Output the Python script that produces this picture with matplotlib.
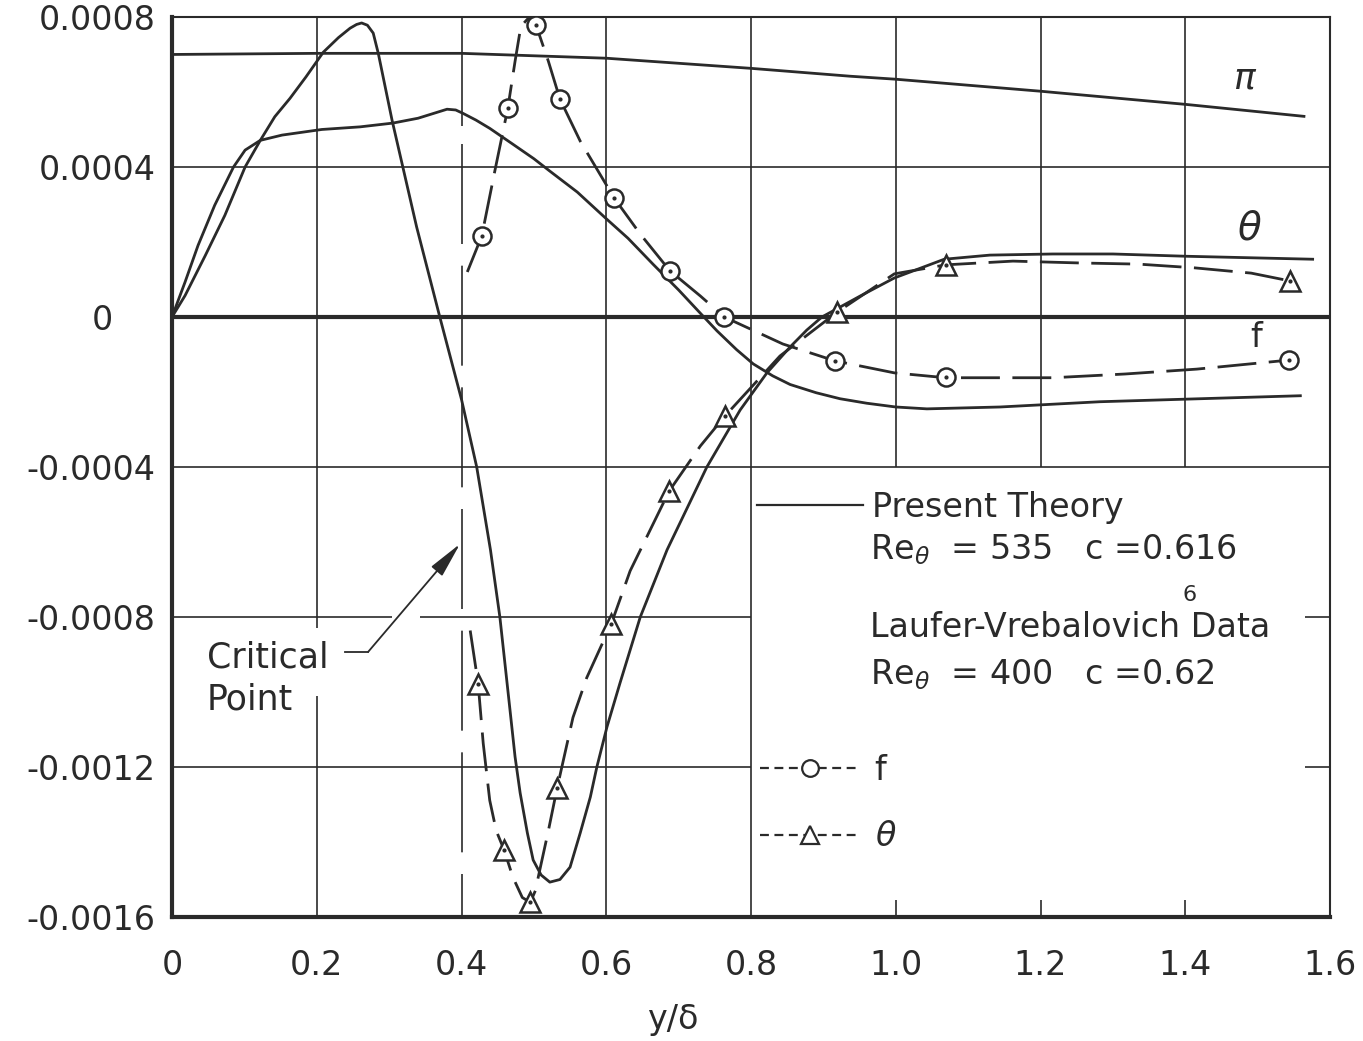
import matplotlib
matplotlib.use("Agg")
import matplotlib.pyplot as plt
from matplotlib.lines import Line2D

# all y values in units of 1e-4
E = 1e-4

# present theory (solid curves)
pi_x = [0.0, 0.2, 0.4, 0.6, 0.8, 0.937, 1.0, 1.2, 1.4, 1.564]
pi_y = [7.0, 7.03, 7.03, 6.9, 6.63, 6.42, 6.34, 6.02, 5.67, 5.35]

theta_x = [0.0, 0.018, 0.046, 0.073, 0.101, 0.122, 0.142, 0.163, 0.185, 0.209, 0.23,
           0.246, 0.255, 0.262, 0.27, 0.278, 0.285, 0.304, 0.338, 0.370, 0.40, 0.421,
           0.44, 0.453, 0.467, 0.474, 0.481, 0.491, 0.499, 0.51, 0.522, 0.536, 0.55,
           0.564, 0.578, 0.587, 0.601, 0.619, 0.647, 0.684, 0.739, 0.785, 0.822, 0.854,
           0.877, 0.898, 0.95, 0.998, 1.067, 1.13, 1.217, 1.30, 1.40, 1.576]
theta_y = [0.0, 0.57, 1.64, 2.71, 4.0, 4.71, 5.34, 5.83, 6.4, 7.06, 7.45,
           7.7, 7.8, 7.84, 7.78, 7.57, 7.03, 5.25, 2.4, 0.0, -2.2, -4.0,
           -6.21, -8.0, -10.48, -11.73, -12.69, -13.76, -14.48, -14.88, -15.07, -15.0, -14.67,
           -13.76, -12.8, -12.0, -10.93, -9.76, -8.0, -6.21, -4.0, -2.48, -1.49, -0.80,
           -0.35, 0.0, 0.55, 1.04, 1.54, 1.65, 1.68, 1.68, 1.62, 1.54]

f_x = [0.0, 0.018, 0.036, 0.059, 0.085, 0.101, 0.122, 0.152, 0.207, 0.26, 0.305, 0.34,
       0.365, 0.38, 0.392, 0.402, 0.42, 0.439, 0.47, 0.50, 0.522, 0.56, 0.60, 0.63,
       0.665, 0.70, 0.730, 0.753, 0.78, 0.803, 0.83, 0.854, 0.89, 0.923, 0.96, 1.0,
       1.043, 1.144, 1.282, 1.42, 1.559]
f_y = [0.0, 0.93, 1.91, 2.98, 4.0, 4.45, 4.71, 4.85, 5.0, 5.07, 5.17, 5.3,
       5.45, 5.54, 5.52, 5.43, 5.25, 5.03, 4.62, 4.22, 3.89, 3.33, 2.62, 2.1,
       1.4, 0.72, 0.1, -0.37, -0.87, -1.25, -1.57, -1.8, -2.02, -2.18, -2.3, -2.4,
       -2.45, -2.40, -2.26, -2.18, -2.10]

# Laufer-Vrebalovich data (points) and the faired dashed curves through them
f_pts_x = [0.428, 0.464, 0.503, 0.536, 0.611, 0.688, 0.763, 0.916, 1.069, 1.543]
f_pts_y = [2.16, 5.57, 7.78, 5.81, 3.17, 1.23, 0.0, -1.17, -1.60, -1.15]
f_fair_x = [0.408, 0.428, 0.446, 0.464, 0.474, 0.482, 0.492, 0.503, 0.520, 0.536, 0.564,
            0.611, 0.647, 0.688, 0.730, 0.763, 0.844, 0.916, 0.998, 1.069, 1.217,
            1.317, 1.416, 1.543]
f_fair_y = [1.2, 2.16, 3.89, 5.57, 6.82, 7.75, 7.96, 7.78, 6.82, 5.81, 4.69,
            3.17, 2.21, 1.23, 0.56, 0.0, -0.72, -1.17, -1.49, -1.62, -1.62,
            -1.52, -1.39, -1.15]

th_pts_x = [0.423, 0.459, 0.495, 0.532, 0.607, 0.687, 0.764, 0.919, 1.069, 1.545]
th_pts_y = [-9.78, -14.22, -15.61, -12.57, -8.18, -4.64, -2.64, 0.13, 1.39, 0.96]
th_fair_x = [0.412, 0.423, 0.430, 0.439, 0.448, 0.459, 0.471, 0.484, 0.495, 0.502, 0.508,
             0.52, 0.532, 0.554, 0.573, 0.607, 0.633, 0.687, 0.730, 0.764, 0.840, 0.919,
             0.998, 1.069, 1.162, 1.255, 1.335, 1.413, 1.491, 1.545]
th_fair_y = [-8.36, -9.78, -11.37, -12.89, -13.7, -14.22, -14.94, -15.48, -15.61, -15.3, -14.76,
             -13.7, -12.57, -10.68, -9.62, -8.18, -6.77, -4.64, -3.44, -2.64, -1.04, 0.13,
             1.15, 1.39, 1.49, 1.44, 1.41, 1.31, 1.17, 0.96]

x_ticks = [0, 0.2, 0.4, 0.6, 0.8, 1.0, 1.2, 1.4, 1.6]
x_tick_labels = ['0', '0.2', '0.4', '0.6', '0.8', '1.0', '1.2', '1.4', '1.6']
y_ticks = [0.0008, 0.0004, 0, -0.0004, -0.0008, -0.0012, -0.0016]
y_tick_labels = ['0.0008', '0.0004', '0    ', '-0.0004', '-0.0008', '-0.0012', '-0.0016']

ink = '#2a2a2a'
plt.rcParams['font.family'] = 'DejaVu Sans'

def sc(vals):
    return [v * E for v in vals]

fig = plt.figure(figsize=(13.63, 10.41), dpi=100)
ax = fig.add_axes([0.1262, 0.1191, 0.8496, 0.8646])
ax.set_xlim(0, 1.6)
ax.set_ylim(-0.0016, 0.0008)

# hand drawn style grid, drawn piece by piece
gw = 1.2
ax.hlines([0.0004, -0.0004], 0, 1.6, color=ink, lw=gw)
ax.hlines(0, 0, 1.6, color=ink, lw=3)
ax.hlines([-0.0008] * 3, [0, 0.343, 1.565], [0.304, 0.8, 1.6], color=ink, lw=gw)
ax.hlines([-0.0012] * 2, [0, 1.565], [0.8, 1.6], color=ink, lw=gw)
ax.vlines([0.2, 0.2], [-8.3 * E, -0.0016], [0.0008, -10.1 * E], color=ink, lw=gw)
ax.vlines(0.4, 5.1 * E, 0.0008, color=ink, lw=gw)
ax.plot([0.4, 0.4], [4.6 * E, -0.0016], color=ink, lw=gw, ls=(0, (60, 13)))
ax.vlines([0.6, 0.8], -0.0016, 0.0008, color=ink, lw=gw)
ax.vlines([1.0, 1.2, 1.4], -0.0004, 0.0008, color=ink, lw=gw)
ax.vlines([1.0, 1.2, 1.4], -0.0016, -15.55 * E, color=ink, lw=gw)

# theory curves
lw = 2.0
ax.plot(pi_x, sc(pi_y), color=ink, lw=lw, solid_joinstyle='round')
ax.plot(theta_x, sc(theta_y), color=ink, lw=lw, solid_joinstyle='round')
ax.plot(f_x, sc(f_y), color=ink, lw=lw, solid_joinstyle='round')

# data curves
dash = (0, (14, 4.5))
ax.plot(f_fair_x, sc(f_fair_y), color=ink, lw=lw, ls=dash)
ax.plot(th_fair_x, sc(th_fair_y), color=ink, lw=lw, ls=dash)
ax.plot(f_pts_x, sc(f_pts_y), ls='none', marker='o', ms=13, mfc='white', mec=ink, mew=1.8, zorder=4)
ax.plot(f_pts_x, sc(f_pts_y), ls='none', marker='.', ms=4, color=ink, zorder=5)
ax.plot(th_pts_x, sc(th_pts_y), ls='none', marker='^', ms=15, mfc='white', mec=ink, mew=1.8, zorder=4)
ax.plot(th_pts_x, sc(th_pts_y), ls='none', marker='.', ms=4, color=ink, zorder=5)

# curve labels
ax.text(1.483, 6.37 * E, r'$\pi$', fontsize=26, color=ink, ha='center', va='center')
ax.text(1.489, 2.37 * E, r'$\theta$', fontsize=28, color=ink, ha='center', va='center')
ax.text(1.498, -0.56 * E, 'f', fontsize=24, color=ink, ha='center', va='center')

# critical point note
ax.text(0.048, -9.07 * E, 'Critical', fontsize=25, color=ink, ha='left', va='center')
ax.text(0.048, -10.19 * E, 'Point', fontsize=25, color=ink, ha='left', va='center')
ax.plot([0.239, 0.271], [-8.93 * E, -8.93 * E], color=ink, lw=1.3)
ax.annotate('', xy=(0.398, -6.05 * E), xytext=(0.271, -8.93 * E),
            arrowprops=dict(arrowstyle='-|>,head_length=1.1,head_width=0.22', color=ink,
                            lw=1.3, mutation_scale=20, shrinkA=0, shrinkB=0))

# key
fs = 24
theory_leg = ax.legend([Line2D([], [], color=ink, lw=1.6)], ['Present Theory'],
                       loc='center left', bbox_to_anchor=(0.808, -5.08 * E),
                       bbox_transform=ax.transData, frameon=False, fontsize=fs,
                       borderpad=0, borderaxespad=0, handlelength=3.2, handletextpad=0.25,
                       labelcolor=ink)
ax.add_artist(theory_leg)
ax.text(0.964, -6.2 * E, r'Re$_\theta$  = 535   c =0.616', fontsize=fs, color=ink, va='center')
ax.text(1.4066, -7.41 * E, '6', fontsize=16, color=ink, ha='center', va='center')
ax.text(0.964, -8.27 * E, 'Laufer-Vrebalovich Data', fontsize=fs, color=ink, va='center')
ax.text(0.964, -9.55 * E, r'Re$_\theta$  = 400   c =0.62', fontsize=fs, color=ink, va='center')

key_f = Line2D([], [], color=ink, lw=1.6, ls=(0, (4, 2.5)), marker='o', ms=12,
               mfc='white', mec=ink, mew=1.6)
key_th = Line2D([], [], color=ink, lw=1.6, ls=(0, (4, 2.5)), marker='^', ms=13,
                mfc='white', mec=ink, mew=1.6)
ax.legend([key_f, key_th], ['f', r'$\theta$'], loc='center left',
          bbox_to_anchor=(0.812, -12.98 * E), bbox_transform=ax.transData,
          frameon=False, fontsize=fs, borderpad=0, borderaxespad=0, numpoints=1,
          handlelength=3.0, handletextpad=0.45, labelspacing=1.0, labelcolor=ink)

# axes
ax.set_xticks(x_ticks, x_tick_labels)
ax.set_yticks(y_ticks, y_tick_labels)
ax.tick_params(axis='both', length=0, labelsize=24, colors=ink)
ax.tick_params(axis='x', pad=23)
ax.tick_params(axis='y', pad=12)
for side in ['left', 'bottom']:
    ax.spines[side].set_linewidth(3)
for side in ['top', 'right']:
    ax.spines[side].set_linewidth(1.5)
for s in ax.spines.values():
    s.set_color(ink)

ax.set_xlabel('y/\u03b4', fontsize=24, color=ink)
ax.xaxis.set_label_coords(0.432, -0.095)

fig.savefig('out.png', dpi=100, facecolor='white')
